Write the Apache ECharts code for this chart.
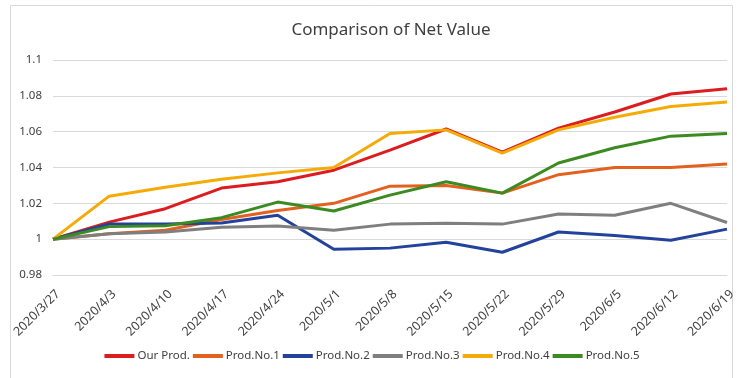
<!DOCTYPE html>
<html>
<head>
<meta charset="utf-8">
<script src="https://cdn.jsdelivr.net/npm/echarts@6/dist/echarts.min.js"></script>
<style>
html,body{margin:0;padding:0;background:#fff;}
#chart{width:744px;height:378px;}
</style>
</head>
<body>
<div id="chart"></div>
<script>
var categories = ['2020/3/27','2020/4/3','2020/4/10','2020/4/17','2020/4/24','2020/5/1','2020/5/8','2020/5/15','2020/5/22','2020/5/29','2020/6/5','2020/6/12','2020/6/19'];
var ourProd = [1, 1.0095, 1.017, 1.0285, 1.032, 1.0385, 1.0497, 1.0615, 1.0486, 1.062, 1.071, 1.081, 1.084];
var prodNo1 = [1, 1.003, 1.005, 1.011, 1.016, 1.020, 1.0296, 1.030, 1.0257, 1.036, 1.040, 1.040, 1.042];
var prodNo2 = [1, 1.0085, 1.0085, 1.009, 1.0134, 0.9944, 0.995, 0.9983, 0.9927, 1.004, 1.002, 0.9994, 1.0056];
var prodNo3 = [1, 1.003, 1.004, 1.0067, 1.0073, 1.005, 1.0084, 1.0089, 1.0084, 1.014, 1.0134, 1.020, 1.0093];
var prodNo4 = [1, 1.024, 1.029, 1.0335, 1.037, 1.040, 1.059, 1.061, 1.048, 1.061, 1.068, 1.074, 1.0766];
var prodNo5 = [1, 1.007, 1.0075, 1.012, 1.0207, 1.0157, 1.0246, 1.032, 1.0257, 1.0425, 1.051, 1.0575, 1.059];
var seriesNames = ['Our Prod.', 'Prod.No.1', 'Prod.No.2', 'Prod.No.3', 'Prod.No.4', 'Prod.No.5'];
var seriesData = [ourProd, prodNo1, prodNo2, prodNo3, prodNo4, prodNo5];
var colors = ['#dc1c1f', '#e2611f', '#23429c', '#7f7f7f', '#f4ab07', '#3c8a22'];
var yTicks = {min: 0.98, max: 1.1, interval: 0.02};

var font = 'Noto Sans';
var chart = echarts.init(document.getElementById('chart'));
chart.setOption({
  animation: false,
  color: colors,
  textStyle: {fontFamily: font},
  graphic: [{
    type: 'rect', shape: {x: 10.5, y: 5.5, width: 722, height: 400},
    style: {fill: 'none', stroke: '#d9d9d9', lineWidth: 1}, silent: true
  }],
  title: {
    text: 'Comparison of Net Value', left: 386, textAlign: 'center', top: 17,
    textStyle: {fontFamily: font, fontSize: 17, fontWeight: 'normal', color: '#404040'}
  },
  legend: {
    data: seriesNames, bottom: 11, left: 'center',
    itemWidth: 30, itemHeight: 4, itemGap: 3,
    icon: 'rect',
    textStyle: {fontFamily: font, fontSize: 11.5, color: '#404040', padding: [0, 0, 0, -2]}
  },
  grid: {left: 53, right: 17, top: 60, bottom: 103},
  xAxis: {
    type: 'category', data: categories, boundaryGap: false,
    axisLine: {lineStyle: {color: '#d9d9d9'}},
    axisTick: {show: false},
    axisLabel: {rotate: 45, fontSize: 12.5, color: '#404040', margin: 22, fontFamily: font, interval: 0,
      padding: [0, -7, 0, 0]}
  },
  yAxis: {
    type: 'value', min: yTicks.min, max: yTicks.max, interval: yTicks.interval,
    axisLine: {show: false}, axisTick: {show: false},
    splitLine: {lineStyle: {color: '#d9d9d9'}},
    axisLabel: {fontSize: 11.5, color: '#404040', margin: 11, fontFamily: font,
      formatter: function (v) { return String(parseFloat(v.toFixed(2))); }}
  },
  series: seriesNames.map(function (n, i) {
    return {name: n, type: 'line', data: seriesData[i], showSymbol: false, symbol: 'none',
      lineStyle: {width: 3}};
  })
});
</script>
</body>
</html>
